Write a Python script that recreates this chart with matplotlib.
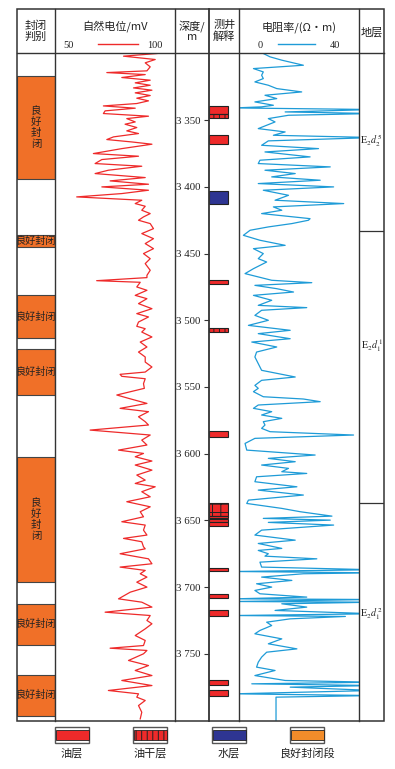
import matplotlib
matplotlib.use('Agg')
import matplotlib.pyplot as plt
from matplotlib.patches import Rectangle
from matplotlib.ticker import FixedLocator, FuncFormatter

plt.rcParams['font.family'] = ['Noto Sans CJK SC', 'DejaVu Sans']
plt.rcParams['mathtext.fontset'] = 'stix'
plt.rcParams['hatch.linewidth'] = 0.7

W, H = 395, 769

# depth window (m)
TOP, BOTTOM = 3300, 3800
depth_ticks = [3350, 3400, 3450, 3500, 3550, 3600, 3650, 3700, 3750]

# spontaneous potential, mV
sp_depth = [3300.0, 3302.0, 3304.5, 3307.0, 3310.0, 3313.0, 3314.3, 3315.8, 3318.0, 3320.0,
            3322.0, 3323.8, 3325.8, 3327.5, 3329.5, 3331.5, 3333.5, 3335.5, 3337.5, 3339.3,
            3341.0, 3343.0, 3345.0, 3347.0, 3348.8, 3351.3, 3353.0, 3355.5, 3358.0, 3360.0,
            3362.5, 3364.5, 3366.3, 3368.0, 3371.3, 3375.0, 3377.0, 3379.5, 3382.5, 3384.5,
            3387.5, 3390.0, 3393.0, 3395.5, 3398.0, 3400.0, 3402.5, 3405.0, 3407.5, 3410.0,
            3412.5, 3414.5, 3417.5, 3420.0, 3422.5,
            3425.0, 3427.5, 3431.3, 3435.0, 3438.8, 3442.5, 3446.3, 3450.0, 3453.8, 3457.5,
            3462.5, 3466.3, 3468.0, 3470.3, 3471.5, 3475.0, 3477.5, 3481.3, 3483.8, 3487.5,
            3491.3, 3495.0, 3497.5, 3501.3, 3504.5, 3506.3, 3508.8, 3512.5, 3516.3, 3520.0,
            3523.8, 3527.5, 3531.3, 3535.0, 3538.8, 3540.5, 3542.0, 3543.8, 3547.5,
            3551.0, 3556.0, 3558.5, 3562.3, 3566.0, 3568.5, 3572.3, 3576.0, 3578.5, 3582.3,
            3586.0, 3589.8, 3593.5, 3597.3, 3599.8, 3602.3, 3605.5, 3608.5, 3612.3, 3616.0,
            3619.8, 3622.3, 3624.8, 3628.5, 3632.3, 3636.0, 3639.8, 3643.5, 3647.3, 3651.0,
            3653.5, 3657.3, 3661.0, 3663.5, 3666.0, 3669.8,
            3671.3, 3675.0, 3678.8, 3682.5, 3685.0, 3687.5, 3690.0, 3692.5, 3696.3, 3700.0,
            3703.8, 3708.8, 3711.3, 3715.0, 3718.8, 3721.3, 3725.0, 3727.5, 3731.3, 3736.3,
            3740.0, 3743.8, 3745.8, 3747.5, 3750.0, 3755.0, 3758.8, 3762.5, 3766.3, 3770.0,
            3773.8, 3777.5, 3780.0, 3782.5, 3785.0, 3788.8, 3793.8, 3798.8]
sp_mv = [101.1, 81.7, 100.1, 94.3, 97.2, 95.3, 72.0, 94.3, 80.7, 97.2,
         88.5, 97.2, 87.5, 98.2, 88.5, 97.2, 89.4, 96.2, 89.4, 70.0,
         88.5, 71.0, 70.0, 96.2, 83.6, 88.5, 82.6, 89.4, 83.6, 90.4,
         75.9, 72.0, 86.5, 98.2, 80.7, 64.2, 90.4, 69.1, 65.2, 92.3,
         72.9, 65.2, 94.3, 73.9, 96.2, 69.1, 96.2, 80.7, 54.5, 92.3,
         88.5, 94.3, 92.3, 97.2, 93.3,
         90.4, 97.2, 99.1, 92.3, 99.1, 94.3, 99.1, 93.3, 97.2, 94.3,
         97.2, 95.3, 95.3, 66.1, 91.4, 89.4, 95.3, 88.5, 95.3, 90.4,
         98.2, 89.4, 96.2, 90.4, 89.4, 94.3, 92.3, 98.2, 91.4, 95.3,
         90.4, 94.3, 94.3, 98.2, 94.3, 79.7, 80.7, 94.3, 93.3,
         93.8, 77.8, 84.6, 95.3, 79.7, 96.2, 90.4, 94.3, 96.2, 62.3,
         97.2, 92.3, 95.3, 78.8, 93.3, 88.5, 98.2, 88.5, 98.2, 89.4,
         94.3, 88.5, 100.1, 92.3, 97.2, 83.6, 97.2, 91.4, 93.3, 80.7,
         94.3, 93.3, 95.3, 81.7, 92.3, 93.3,
         94.3, 79.7, 96.2, 98.2, 79.7, 94.3, 91.4, 95.3, 89.4, 95.3,
         85.6, 78.8, 92.3, 98.2, 71.0, 97.2, 95.3, 98.2, 94.3, 88.5,
         94.3, 93.3, 73.9, 95.3, 93.3, 84.6, 96.2, 88.5, 98.2, 80.7,
         98.2, 72.9, 90.4, 89.4, 94.3, 90.4, 92.3, 91.4]

# resistivity, ohm.m (values past the track edge are clipped)
res_depth = [3300.0, 3302.5, 3305.0, 3308.8, 3311.3, 3313.8, 3316.3, 3318.8, 3321.3, 3323.8,
             3326.3, 3328.8, 3331.3, 3333.8, 3336.3, 3338.8, 3340.0, 3340.8, 3342.0, 3343.8,
             3345.0, 3346.3, 3348.8, 3351.3, 3353.8, 3356.3, 3358.8, 3361.3, 3363.0, 3365.5,
             3368.8, 3371.3, 3373.8, 3377.5, 3380.0, 3382.5, 3385.0, 3387.5, 3390.0, 3392.5,
             3395.0, 3397.5, 3400.0, 3402.5, 3406.3, 3410.0, 3412.5, 3415.0, 3417.5, 3420.0,
             3423.8,
             3425.0, 3427.5, 3430.0, 3432.5, 3436.3, 3440.0, 3443.8, 3446.3, 3450.0, 3453.8,
             3456.3, 3461.3, 3465.0, 3467.5, 3470.0, 3471.8, 3473.8, 3476.3, 3478.8, 3481.3,
             3485.0, 3488.8, 3490.5, 3492.5, 3496.3, 3500.0, 3503.8, 3507.5, 3510.0, 3513.8,
             3516.3, 3520.0, 3523.8, 3527.5, 3532.5, 3537.5, 3542.5, 3545.0, 3548.8,
             3551.0, 3553.5, 3557.3, 3559.0, 3561.0, 3563.5, 3566.0, 3568.5, 3571.0, 3573.5,
             3576.0, 3578.5, 3581.0, 3583.5, 3586.0, 3588.5, 3592.3, 3597.3, 3601.0, 3603.5,
             3606.0, 3608.5, 3611.0, 3613.5, 3614.8, 3617.3, 3621.0, 3624.8, 3627.3, 3631.0,
             3634.8, 3637.3, 3641.0, 3643.5, 3646.8, 3648.5, 3649.8, 3651.5, 3653.5, 3657.3,
             3661.0, 3664.8, 3667.3, 3671.0,
             3672.5, 3675.0, 3676.8, 3678.8, 3681.3, 3685.0, 3687.0, 3688.3, 3689.3, 3690.0,
             3692.5, 3695.0, 3697.5, 3700.0, 3702.5, 3705.0, 3707.5, 3708.8, 3709.3, 3710.8,
             3711.3, 3712.5, 3715.0, 3717.5, 3720.0, 3721.3, 3722.0, 3723.8, 3726.3, 3728.8,
             3732.5, 3735.0, 3738.8, 3742.5, 3746.3, 3748.8, 3752.5, 3756.3, 3760.0, 3762.5,
             3766.3, 3770.0, 3771.3, 3772.5, 3773.8, 3775.0, 3777.5, 3780.0, 3781.3, 3782.5,
             3800.0]
res_ohm = [10.0, 12.8, 17.7, 26.7, 5.9, 10.0, 9.3, 10.0, 6.5, 12.1,
           15.6, 26.0, 10.7, 15.6, 6.5, 14.2, 9.3, -2, 56, 19.1,
           56, 20.5, 12.1, 14.9, 11.4, 7.9, 19.1, 14.2, 56, 12.1,
           9.3, 33.0, 10.7, 29.5, 8.6, 7.9, 37.9, 10.7, 23.3, 13.5,
           33.7, 7.9, 39.3, 10.0, 20.5, 14.9, 43.5, 14.2, 17.7, 9.3,
           29.5,
           28.8, 21.9, 12.1, 4.5, 1.7, 8.6, 19.1, 5.9, 10.0, 7.9,
           11.4, 5.9, 2.4, 7.9, 13.5, 30.2, 6.5, 15.6, 22.6, 5.9,
           13.5, 7.9, 28.1, 9.3, 6.5, 12.1, 3.8, 21.2, 7.9, 21.2,
           5.2, 15.6, 7.2, 6.5, 7.9, 9.3, 23.3, 9.3, 6.5,
           7.9, 5.9, 10.0, 26.7, 33.7, 7.9, 5.9, 13.5, 9.3, 17.7,
           10.0, 10.7, 9.3, 12.8, 47.6, 6.5, 2.4, 3.1, 31.6, 12.1,
           23.3, 9.3, 20.5, 17.7, 28.1, 7.2, 6.5, 24.0, 7.9, 26.7,
           3.8, 3.1, 17.7, 25.4, 38.6, 10.0, 37.9, 12.1, 39.3, 9.3,
           6.5, 23.3, 7.9, 17.7,
           7.9, 12.1, 10.7, 32.3, 8.6, 9.3, 56, -2, 56, 26.7,
           9.3, 21.9, 7.2, 13.5, 6.5, 8.6, 28.1, -2, 56, -2,
           56, 17.7, 28.1, 14.9, 56, -2, 44.2, 21.2, 11.4, 13.5,
           8.6, 6.5, 17.7, 12.1, 24.0, 11.4, 9.3, 7.9, 7.2, 14.9,
           6.5, 19.1, 56, 5.2, 56, 21.2, 56, -2, 56, 15.3,
           15.3]

# seal evaluation intervals
seal_top = [3317.2, 3436.2, 3481.1, 3521.6, 3602.4, 3712.4, 3765.6]
seal_bottom = [3394.3, 3445.2, 3513.3, 3556.0, 3696.0, 3743.1, 3796.3]
seal_vertical = [True, False, False, False, True, False, False]

# log interpretation
interp_top = [3339.3, 3345.0, 3360.8, 3403.0, 3469.8, 3506.0, 3582.8, 3637.3, 3646.5, 3649.0,
              3651.5, 3685.8, 3705.5, 3717.3, 3769.5, 3776.8]
interp_bottom = [3345.0, 3348.3, 3367.8, 3413.0, 3472.5, 3509.0, 3587.3, 3646.5, 3648.5, 3651.0,
                 3654.0, 3688.3, 3707.8, 3722.0, 3773.3, 3781.3]
interp_kind = ['oil', 'dry', 'oil', 'water', 'oil', 'dry', 'oil', 'grid', 'oil', 'oil',
               'oil', 'oil', 'oil', 'oil', 'oil', 'oil']

# stratigraphy
strat_bounds = [3433.2, 3636.6]
strat_label_depth = [3365, 3519, 3720]
strat_labels = [r'$\mathrm{E}_2d_2^{\,5}$', r'$\mathrm{E}_2d_1^{\,1}$', r'$\mathrm{E}_2d_1^{\,2}$']

legend_names = ['油层', '油干层', '水层', '良好封闭段']
legend_kind = ['oil', 'dry', 'water', 'seal']

RED = '#EE2A2A'
BLUE = '#1E9BD7'
WATER = '#2E3592'
ORANGE = '#F07028'
LEG_ORANGE = '#F28C2A'
EDGE = '#333333'

fill = {'oil': RED, 'dry': RED, 'grid': RED, 'water': WATER, 'seal': LEG_ORANGE}
hatch = {'oil': None, 'dry': '|||', 'grid': '++', 'water': None, 'seal': None}

# column edges (px)
XL, XSP, XD, XI, XR, XS, XRT = 16.7, 55, 175, 209.3, 239.3, 359.3, 384
YT, YH, YB = 9.3, 53, 720.5
BODY_TOP = 53.5


def px_axes(fig, x0, x1, y0=BODY_TOP, y1=YB):
    ax = fig.add_axes([x0 / W, 1 - y1 / H, (x1 - x0) / W, (y1 - y0) / H])
    ax.set_ylim(BOTTOM, TOP)
    ax.patch.set_alpha(0)
    for s in ax.spines.values():
        s.set_visible(False)
    return ax


fig = plt.figure(figsize=(W / 100, H / 100), dpi=100)

# seal column
ax_seal = px_axes(fig, XL, XSP)
ax_seal.set_xlim(0, 1)
ax_seal.axis('off')
for t, b, v in zip(seal_top, seal_bottom, seal_vertical):
    ax_seal.add_patch(Rectangle((0, t), 1, b - t, facecolor=ORANGE, edgecolor='#444444', lw=0.8))
    if v:
        ax_seal.text(0.5, (t + b) / 2, '良\n好\n封\n闭', ha='center', va='center', fontsize=7.5,
                     linespacing=1.1 if b - t < 100 else 2.0, color='#222222')
    else:
        ax_seal.text(0.5, (t + b) / 2, '良好封闭', ha='center', va='center', fontsize=7.3, color='#222222')

# SP track
ax_sp = px_axes(fig, XSP, XD)
ax_sp.set_xlim(41.9, 111.6)
ax_sp.axis('off')
ax_sp.plot(sp_mv, sp_depth, color=RED, lw=0.9)

# depth track
ax_d = px_axes(fig, 204, XI)
ax_d.set_xticks([])
ax_d.yaxis.set_major_locator(FixedLocator(depth_ticks))
ax_d.yaxis.set_major_formatter(FuncFormatter(lambda v, p: f"{int(v) // 1000} {int(v) % 1000:03d}"))
ax_d.tick_params(axis='y', direction='in', length=3.8, width=0.8, color=EDGE, pad=2.5,
                 labelsize=7.8, labelfontfamily='Liberation Serif', labelcolor='#222222')

# interpretation track
ax_i = px_axes(fig, XI, XR)
ax_i.set_xlim(0, 1)
ax_i.axis('off')
for t, b, k in zip(interp_top, interp_bottom, interp_kind):
    ax_i.add_patch(Rectangle((0, t), 0.615, b - t, facecolor=fill[k], edgecolor='#222222',
                             lw=0.8, hatch=hatch[k]))

# resistivity track
ax_r = px_axes(fig, XR, XS)
ax_r.set_xlim(0, 50)
ax_r.axis('off')
ax_r.plot(res_ohm, res_depth, color=BLUE, lw=0.9)

# stratigraphy
ax_s = px_axes(fig, XS, XRT)
ax_s.set_xlim(0, 1)
ax_s.axis('off')
for d in strat_bounds:
    ax_s.axhline(d, color=EDGE, lw=0.9)
for d, lab in zip(strat_label_depth, strat_labels):
    ax_s.text(0.5, d, lab, ha='center', va='center', fontsize=7.2, color='#222222')

# frame, header and legend
ov = fig.add_axes([0, 0, 1, 1])
ov.set_xlim(0, W)
ov.set_ylim(H, 0)
ov.axis('off')
ov.patch.set_alpha(0)
ov.add_patch(Rectangle((XL, YT), XRT - XL, YB - YT, fill=False, edgecolor=EDGE, lw=1.1))
for x in [XSP, XD, XI, XR, XS]:
    ov.plot([x, x], [YT, YB], color=EDGE, lw=1.0 if x != XI else 1.3)
ov.plot([XL, XRT], [YH, YH], color=EDGE, lw=1.0)

hc = '#222222'
ov.text((XL + XSP) / 2, 31, '封闭\n判别', ha='center', va='center', fontsize=8, linespacing=1.1, color=hc)
ov.text((XSP + XD) / 2, 26, '自然电位/mV', ha='center', va='center', fontsize=8, color=hc)
ov.text(69, 45, '50', ha='center', va='center', fontsize=7.5, family='Liberation Serif', color=hc)
ov.text(155, 45, '100', ha='center', va='center', fontsize=7.5, family='Liberation Serif', color=hc)
ov.plot([98, 138], [44, 44], color=RED, lw=1.0)
ov.text((XD + XI) / 2, 31, '深度/\nm', ha='center', va='center', fontsize=8, linespacing=1.1, color=hc)
ov.text((XI + XR) / 2, 31, '测井\n解释', ha='center', va='center', fontsize=8, linespacing=1.1, color=hc)
ov.text((XR + XS) / 2, 27, '电阻率/(Ω·m)', ha='center', va='center', fontsize=8, color=hc)
ov.text(260, 45, '0', ha='center', va='center', fontsize=7.5, family='Liberation Serif', color=hc)
ov.text(335, 45, '40', ha='center', va='center', fontsize=7.5, family='Liberation Serif', color=hc)
ov.plot([278, 315], [44, 44], color=BLUE, lw=1.0)
ov.text((XS + XRT) / 2, 32, '地层', ha='center', va='center', fontsize=8, color=hc)

legend_x = [72, 150, 229, 307]
for x, name, k in zip(legend_x, legend_names, legend_kind):
    ov.add_patch(Rectangle((x - 17, 726.5), 34, 16.5, facecolor='white', edgecolor='#555555', lw=1.0))
    ov.add_patch(Rectangle((x - 16.5, 729.5), 33, 10.5, facecolor=fill[k], edgecolor='#222222',
                           lw=0.6, hatch=hatch[k]))
    ov.text(x, 753, name, ha='center', va='center', fontsize=8, color=hc)

fig.savefig('out.png', dpi=100)
